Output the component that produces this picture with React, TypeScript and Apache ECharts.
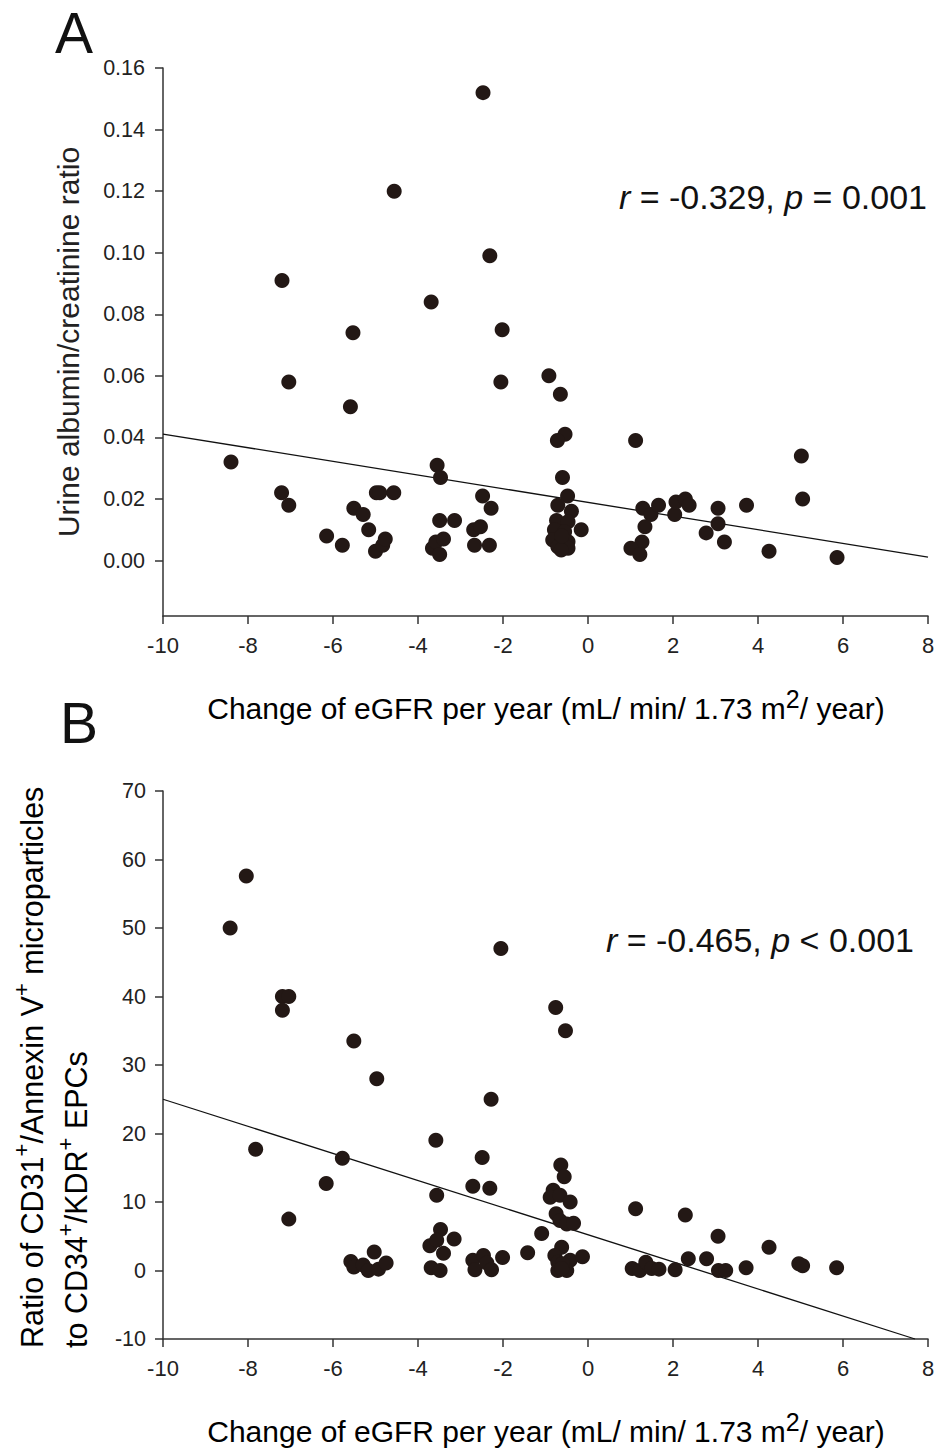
import React, { useEffect, useRef } from "react";
import * as echarts from "echarts";

// ---------- Panel A data: change of eGFR vs urine albumin/creatinine ratio ----------
const xA = [
  -8.4, -7.2, -7.04, -7.21, -7.04, -6.15, -5.78, -5.59, -5.53, -5.51, -5.29, -5.16,
  -4.98, -4.9, -4.57, -5.0, -4.83, -4.77, -4.56, -3.69, -3.55, -3.47, -3.49, -3.14,
  -3.66, -3.58, -3.4, -3.49, -2.47, -2.31, -2.02, -2.05, -2.48, -2.28, -2.69, -2.53,
  -2.67, -2.32, -0.92, -0.65, -0.54, -0.72, -0.6, -0.48, -0.71, -0.39, -0.74, -0.47,
  -0.79, -0.16, -0.55, -0.83, -0.47, -0.71, -0.47, -0.63, -0.62, 1.12, 1.29, 1.48,
  1.34, 1.27, 1.01, 1.22, 1.66, 2.04, 2.07, 2.29, 2.38, 2.78, 3.06, 3.06, 3.21, 3.73,
  4.26, 5.02, 5.05, 5.86,
];
const yA = [
  0.032, 0.091, 0.058, 0.022, 0.018, 0.008, 0.005, 0.05, 0.074, 0.017, 0.015, 0.01,
  0.022, 0.022, 0.022, 0.003, 0.005, 0.007, 0.12, 0.084, 0.031, 0.027, 0.013, 0.013,
  0.004, 0.006, 0.007, 0.002, 0.152, 0.099, 0.075, 0.058, 0.021, 0.017, 0.01, 0.011,
  0.005, 0.005, 0.06, 0.054, 0.041, 0.039, 0.027, 0.021, 0.018, 0.016, 0.013, 0.0126,
  0.01, 0.01, 0.0094, 0.0067, 0.0061, 0.0045, 0.004, 0.0034, 0.008, 0.039, 0.017, 0.015,
  0.011, 0.006, 0.004, 0.002, 0.018, 0.015, 0.019, 0.02, 0.018, 0.009, 0.017, 0.012,
  0.006, 0.018, 0.003, 0.034, 0.02, 0.001,
];
const regA = { slope: -0.00222, intercept: 0.0189 };
const yTicksA = [0, 0.02, 0.04, 0.06, 0.08, 0.1, 0.12, 0.14, 0.16];

// ---------- Panel B data: change of eGFR vs MP/EPC ratio ----------
const xB = [
  -8.04, -8.42, -7.19, -7.04, -7.19, -5.51, -4.97, -2.05, -0.76, -0.53, -2.28,
  -7.82, -7.04, -5.78, -6.16, -3.58, -3.56, -2.49, -2.71, -2.31,
  -5.58, -5.51, -5.29, -5.17, -5.03, -4.93, -4.75,
  -3.72, -3.47, -3.56, -3.4, -3.69, -3.48, -3.15,
  -2.71, -2.66, -2.46, -2.38, -2.27, -2.01, -1.42, -1.09,
  -0.64, -0.56, -0.82, -0.89, -0.66, -0.42, -0.75, -0.66, -0.5, -0.34, -0.62, -0.78,
  -0.71, -0.54, -0.42, -0.71, -0.5, -0.13, -0.6, -0.62,
  1.12, 2.29, 3.06, 4.26, 2.36, 2.79, 1.04, 1.22, 1.36, 1.5, 1.67, 2.05, 3.07, 3.24,
  3.72, 4.96, 5.05, 5.85,
];
const yB = [
  57.6, 50.0, 40.0, 40.0, 38.0, 33.5, 28.0, 47.0, 38.4, 35.0, 25.0,
  17.7, 7.5, 16.4, 12.7, 19.0, 11.0, 16.5, 12.3, 12.0,
  1.3, 0.5, 0.8, 0.0, 2.7, 0.2, 1.1,
  3.6, 6.0, 4.4, 2.5, 0.4, 0.0, 4.6,
  1.5, 0.1, 2.2, 1.1, 0.1, 1.9, 2.6, 5.4,
  15.4, 13.7, 11.7, 10.7, 11.0, 10.0, 8.3, 7.3, 6.8, 6.9, 3.4, 2.2,
  1.2, 0.5, 1.5, 0.0, 0.0, 2.0, 1.0, 0.3,
  9.0, 8.1, 5.0, 3.4, 1.7, 1.7, 0.3, 0.0, 1.2, 0.3, 0.2, 0.1, 0.0, 0.0,
  0.4, 1.0, 0.7, 0.4,
];
const regB = { slope: -1.978, intercept: 5.22 };

const xRange = [-10, 8];
const yRangeA = [-0.018, 0.16];
const yRangeB = [-10, 70];

const FONT = "'Liberation Sans', Arial, Helvetica, sans-serif";
const DOT = "#231815";
const AXIS = "#333333";

export default function App() {
  const ref = useRef<HTMLDivElement>(null);

  useEffect(() => {
    if (!ref.current) return;
    const chart = echarts.init(ref.current, undefined, { renderer: "svg" });

    const ptsA = xA.map((x, i) => [x, yA[i]]);
    const ptsB = xB.map((x, i) => [x, yB[i]]);
    const lineA = xRange.map((x) => [x, regA.intercept + regA.slope * x]);
    const endB = Math.min(xRange[1], (yRangeB[0] - regB.intercept) / regB.slope);
    const lineB = [xRange[0], endB].map((x) => [x, regB.intercept + regB.slope * x]);

    const xAxisCommon = {
      type: "value",
      min: xRange[0],
      max: xRange[1],
      interval: 2,
      splitLine: { show: false },
      axisLine: { show: true, onZero: false, lineStyle: { color: AXIS, width: 1.5 } },
      axisTick: { show: true, inside: false, length: 8, lineStyle: { color: AXIS, width: 1.5 } },
      axisLabel: { color: "#222", fontSize: 22, fontFamily: FONT, margin: 18 },
    };

    const yAxisCommon = {
      type: "value",
      splitLine: { show: false },
      axisLine: { show: true, onZero: false, lineStyle: { color: AXIS, width: 1.5 } },
      axisTick: { show: true, inside: false, length: 8, lineStyle: { color: AXIS, width: 1.5 } },
    };

    const sup = { fontSize: 22, fontFamily: FONT, color: "#222", verticalAlign: "top", lineHeight: 44 };
    const nrm = { fontSize: 30.5, fontFamily: FONT, color: "#222", lineHeight: 44 };

    chart.setOption({
      animation: false,
      backgroundColor: "#ffffff",
      grid: [
        { left: 163, top: 68, width: 765, height: 548, containLabel: false, outerBoundsMode: "none" },
        { left: 163, top: 791, width: 765, height: 548, containLabel: false, outerBoundsMode: "none" },
      ],
      xAxis: [
        { ...xAxisCommon, gridIndex: 0 },
        { ...xAxisCommon, gridIndex: 1 },
      ],
      yAxis: [
        {
          ...yAxisCommon,
          gridIndex: 0,
          min: yRangeA[0],
          max: yRangeA[1],
          axisTick: { ...yAxisCommon.axisTick, customValues: yTicksA },
          axisLabel: {
            customValues: yTicksA,
            color: "#222",
            fontSize: 21.5,
            fontFamily: FONT,
            margin: 18,
            formatter: (v: number) => v.toFixed(2),
          },
        },
        {
          ...yAxisCommon,
          gridIndex: 1,
          min: yRangeB[0],
          max: yRangeB[1],
          interval: 10,
          axisLabel: { color: "#222", fontSize: 21.5, fontFamily: FONT, margin: 17 },
        },
      ],
      series: [
        {
          type: "line",
          xAxisIndex: 0,
          yAxisIndex: 0,
          data: lineA,
          symbol: "none",
          lineStyle: { color: "#111", width: 1.3 },
          z: 2,
        },
        {
          type: "scatter",
          xAxisIndex: 0,
          yAxisIndex: 0,
          data: ptsA,
          symbol: "circle",
          symbolSize: 15,
          itemStyle: { color: DOT, opacity: 1 },
          z: 3,
        },
        {
          type: "line",
          xAxisIndex: 1,
          yAxisIndex: 1,
          data: lineB,
          symbol: "none",
          lineStyle: { color: "#111", width: 1.3 },
          z: 2,
        },
        {
          type: "scatter",
          xAxisIndex: 1,
          yAxisIndex: 1,
          data: ptsB,
          symbol: "circle",
          symbolSize: 15,
          itemStyle: { color: DOT, opacity: 1 },
          z: 3,
        },
      ],
      graphic: [
        {
          type: "text",
          x: 55,
          y: 33,
          style: { text: "A", fontSize: 57, fontFamily: FONT, fill: "#111", textAlign: "left", textVerticalAlign: "middle" },
        },
        {
          type: "text",
          x: 60,
          y: 723,
          style: { text: "B", fontSize: 57, fontFamily: FONT, fill: "#111", textAlign: "left", textVerticalAlign: "middle" },
        },
        {
          type: "text",
          x: 927,
          y: 197,
          style: {
            text: "{i|r} = -0.329, {i|p} = 0.001",
            fontSize: 34,
            fontFamily: FONT,
            fill: "#111",
            textAlign: "right",
            textVerticalAlign: "middle",
            rich: { i: { fontStyle: "italic", fontSize: 34, fontFamily: FONT, color: "#111" } },
          },
        },
        {
          type: "text",
          x: 914,
          y: 940,
          style: {
            text: "{i|r} = -0.465, {i|p} < 0.001",
            fontSize: 34,
            fontFamily: FONT,
            fill: "#111",
            textAlign: "right",
            textVerticalAlign: "middle",
            rich: { i: { fontStyle: "italic", fontSize: 34, fontFamily: FONT, color: "#111" } },
          },
        },
        {
          type: "text",
          x: 546,
          y: 708,
          style: {
            text: "{n|Change of eGFR per year (mL/ min/ 1.73 m}{s|2}{n|/ year)}",
            textAlign: "center",
            textVerticalAlign: "middle",
            rich: { n: { ...nrm, fontSize: 30 }, s: { ...sup, fontSize: 25 } },
          },
        },
        {
          type: "text",
          x: 546,
          y: 1431,
          style: {
            text: "{n|Change of eGFR per year (mL/ min/ 1.73 m}{s|2}{n|/ year)}",
            textAlign: "center",
            textVerticalAlign: "middle",
            rich: { n: { ...nrm, fontSize: 30 }, s: { ...sup, fontSize: 25 } },
          },
        },
        {
          type: "text",
          x: 68,
          y: 342,
          rotation: Math.PI / 2,
          style: {
            text: "Urine albumin/creatinine ratio",
            fontSize: 30,
            fontFamily: FONT,
            fill: "#222",
            textAlign: "center",
            textVerticalAlign: "middle",
          },
        },
        {
          type: "text",
          x: 54,
          y: 1348,
          rotation: Math.PI / 2,
          style: {
            text:
              "{n|Ratio of CD31}{s|+}{n|/Annexin V}{s|+}{n| microparticles}\n{n|to CD34}{s|+}{n|/KDR}{s|+}{n| EPCs}",
            textAlign: "left",
            textVerticalAlign: "middle",
            rich: { n: nrm, s: sup },
          },
        },
      ],
    });

    return () => chart.dispose();
  }, []);

  return (
    <div
      ref={ref}
      style={{ position: "absolute", left: 0, top: 0, width: 935, height: 1448, background: "#fff" }}
    />
  );
}
